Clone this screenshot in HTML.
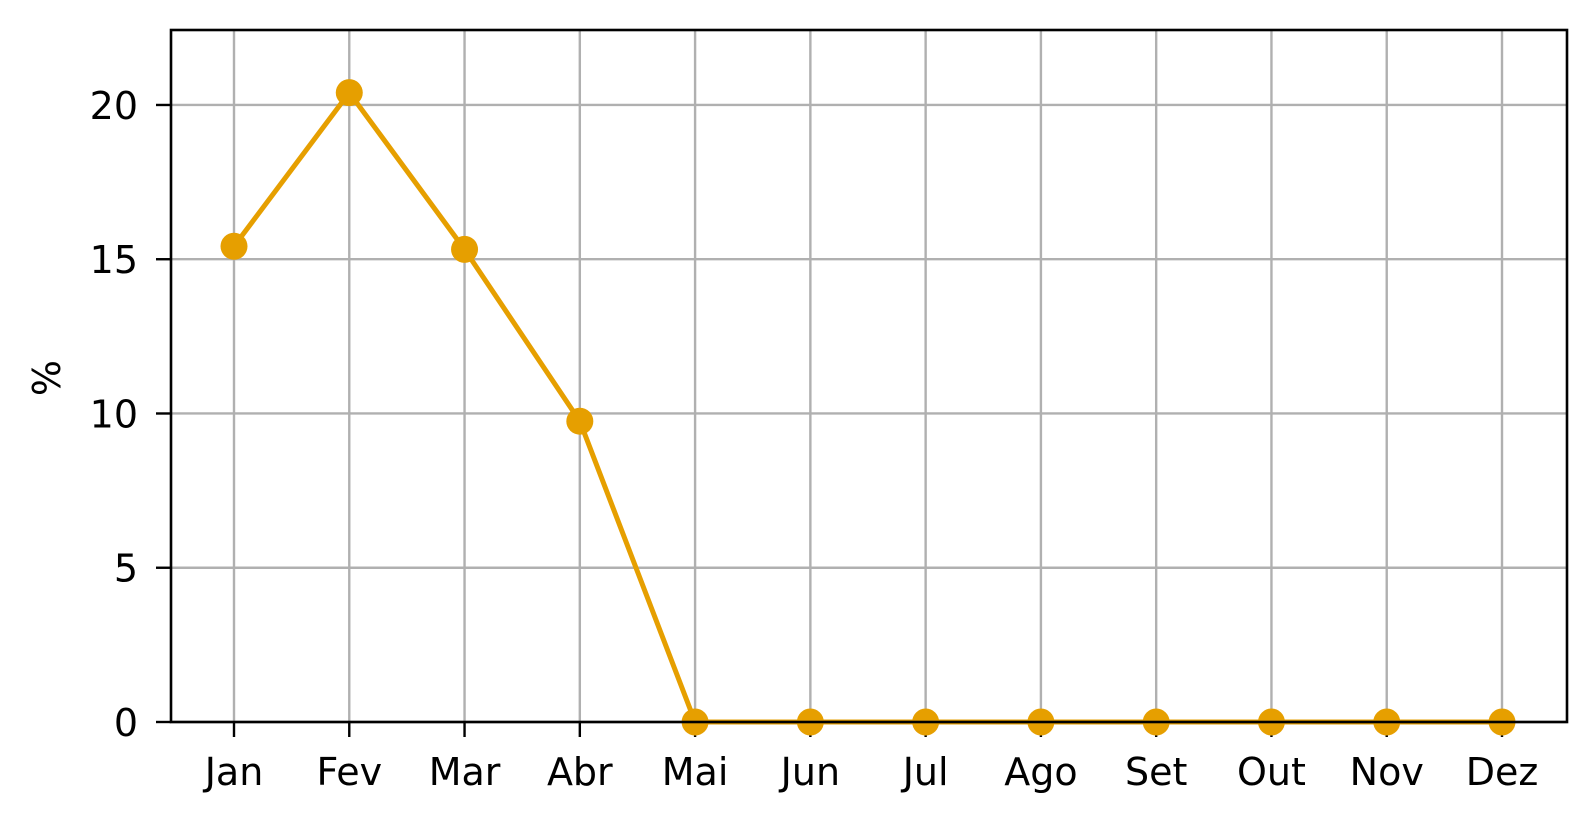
<!DOCTYPE html>
<html><head><meta charset="utf-8"><style>
body{margin:0;background:#fff}
svg{display:block;font-family:"DejaVu Sans","Liberation Sans",sans-serif}
</style></head><body>
<svg id="chart" width="1595" height="824"></svg>
<script>
const categories=["Jan","Fev","Mar","Abr","Mai","Jun","Jul","Ago","Set","Out","Nov","Dez"];
const seriesValues=[15.42,20.4,15.32,9.75,0,0,0,0,0,0,0,0];
const yTicks=[0,5,10,15,20];
const L=171,R=1567,T=30,B=722,yMax=22.43;
const x0=234,step=(1502-234)/11;
const xs=i=>x0+i*step;
const ys=v=>B-(v/yMax)*(B-T);
const NS="http://www.w3.org/2000/svg";
const svg=document.getElementById('chart');
function mk(tag,attrs,parent){const e=document.createElementNS(NS,tag);for(const k in attrs)e.setAttribute(k,attrs[k]);(parent||svg).appendChild(e);return e;}
const grid=mk('g',{});


categories.forEach((c,i)=>{
  const l=mk('line',{x1:xs(i),x2:xs(i),y1:T,y2:B,stroke:'#b0b0b0','stroke-width':2.4},grid);
  
  
  const tk=mk('line',{x1:xs(i),x2:xs(i),y1:B,y2:B+15,stroke:'#000','stroke-width':2.4});
  
  
  const t=mk('text',{x:xs(i),y:785,'text-anchor':'middle','font-size':38,fill:'#000'});
  t.textContent=c;
  
  
});
yTicks.forEach(v=>{
  const l=mk('line',{x1:L,x2:R,y1:ys(v),y2:ys(v),stroke:'#b0b0b0','stroke-width':2.4},grid);
  
  
  const tk=mk('line',{x1:L-15,x2:L,y1:ys(v),y2:ys(v),stroke:'#000','stroke-width':2.4});
  
  
  const t=mk('text',{x:138,y:ys(v)+14,'text-anchor':'end','font-size':38,fill:'#000'});
  t.textContent=v;
  
  
});
const yl=mk('text',{x:60,y:378,'text-anchor':'middle','font-size':38,fill:'#000',transform:'rotate(-90 60 378)'});
yl.textContent='%';


const line=mk('polyline',{points:seriesValues.map((v,i)=>xs(i)+','+ys(v)).join(' '),fill:'none',stroke:'#E69F00','stroke-width':5,'stroke-linejoin':'round'});


seriesValues.forEach((v,i)=>{
  const c=mk('circle',{cx:xs(i),cy:ys(v),r:13.5,fill:'#E69F00'});
  
  
});
const frame=mk('rect',{x:L,y:T,width:R-L,height:B-T,fill:'none',stroke:'#000','stroke-width':2.6});


</script>
</body></html>
